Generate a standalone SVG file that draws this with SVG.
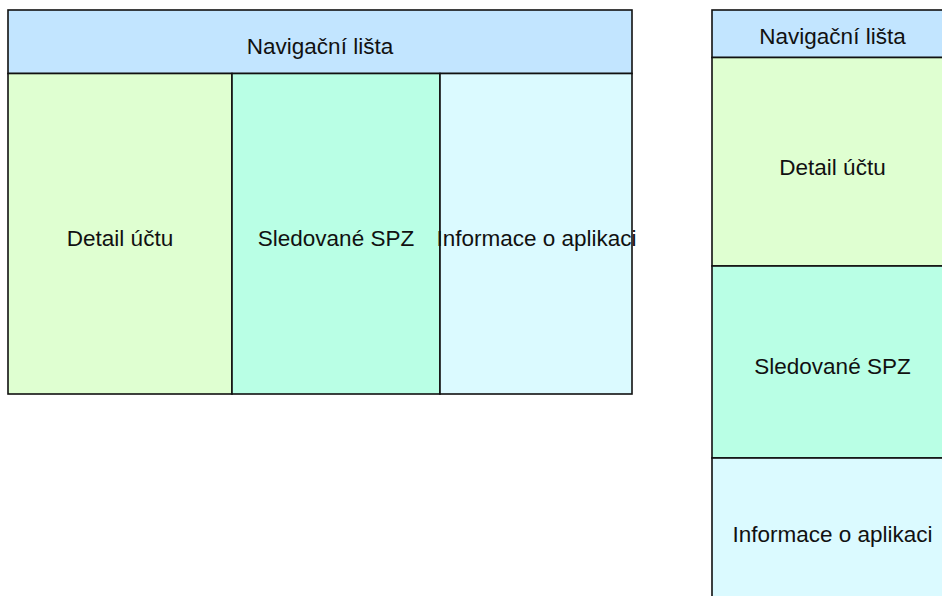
<svg xmlns="http://www.w3.org/2000/svg" width="942" height="596" viewBox="0 0 942 596">
  <style>
    .box { stroke: #111; stroke-width: 1.6; }
    .nav { fill: #c2e5ff; }
    .detail { fill: #dfffd1; }
    .spz { fill: #b9ffe5; }
    .info { fill: #dbfaff; }
    .lbl { font-family: "Liberation Sans", Arial, sans-serif; font-size: 22.5px; fill: #111; text-anchor: middle; }
  </style>
  <rect width="942" height="596" fill="#ffffff"/>

  <!-- Wide layout -->
  <g id="wide-layout">
    <g id="wide-nav">
      <rect class="box nav" x="8" y="10" width="624" height="63.5"/>
      <text class="lbl" x="320" y="53.5">Navigační lišta</text>
    </g>
    <g id="wide-detail">
      <rect class="box detail" x="8" y="73.5" width="224" height="320.5"/>
      <text class="lbl" x="120" y="246">Detail účtu</text>
    </g>
    <g id="wide-spz">
      <rect class="box spz" x="232" y="73.5" width="208" height="320.5"/>
      <text class="lbl" x="336" y="246">Sledované SPZ</text>
    </g>
    <g id="wide-info">
      <rect class="box info" x="440" y="73.5" width="192" height="320.5"/>
      <text class="lbl" x="536.5" y="246">Informace o aplikaci</text>
    </g>
  </g>

  <!-- Narrow layout -->
  <g id="narrow-layout">
    <g id="narrow-nav">
      <rect class="box nav" x="712" y="10" width="241" height="47.5"/>
      <text class="lbl" x="832.5" y="44">Navigační lišta</text>
    </g>
    <g id="narrow-detail">
      <rect class="box detail" x="712" y="57.5" width="241" height="208.5"/>
      <text class="lbl" x="832.5" y="174.5">Detail účtu</text>
    </g>
    <g id="narrow-spz">
      <rect class="box spz" x="712" y="266" width="241" height="192"/>
      <text class="lbl" x="832.5" y="374">Sledované SPZ</text>
    </g>
    <g id="narrow-info">
      <rect class="box info" x="712" y="458" width="241" height="160"/>
      <text class="lbl" x="832.5" y="542">Informace o aplikaci</text>
    </g>
  </g>
  <g id="connectors"/>
</svg>
